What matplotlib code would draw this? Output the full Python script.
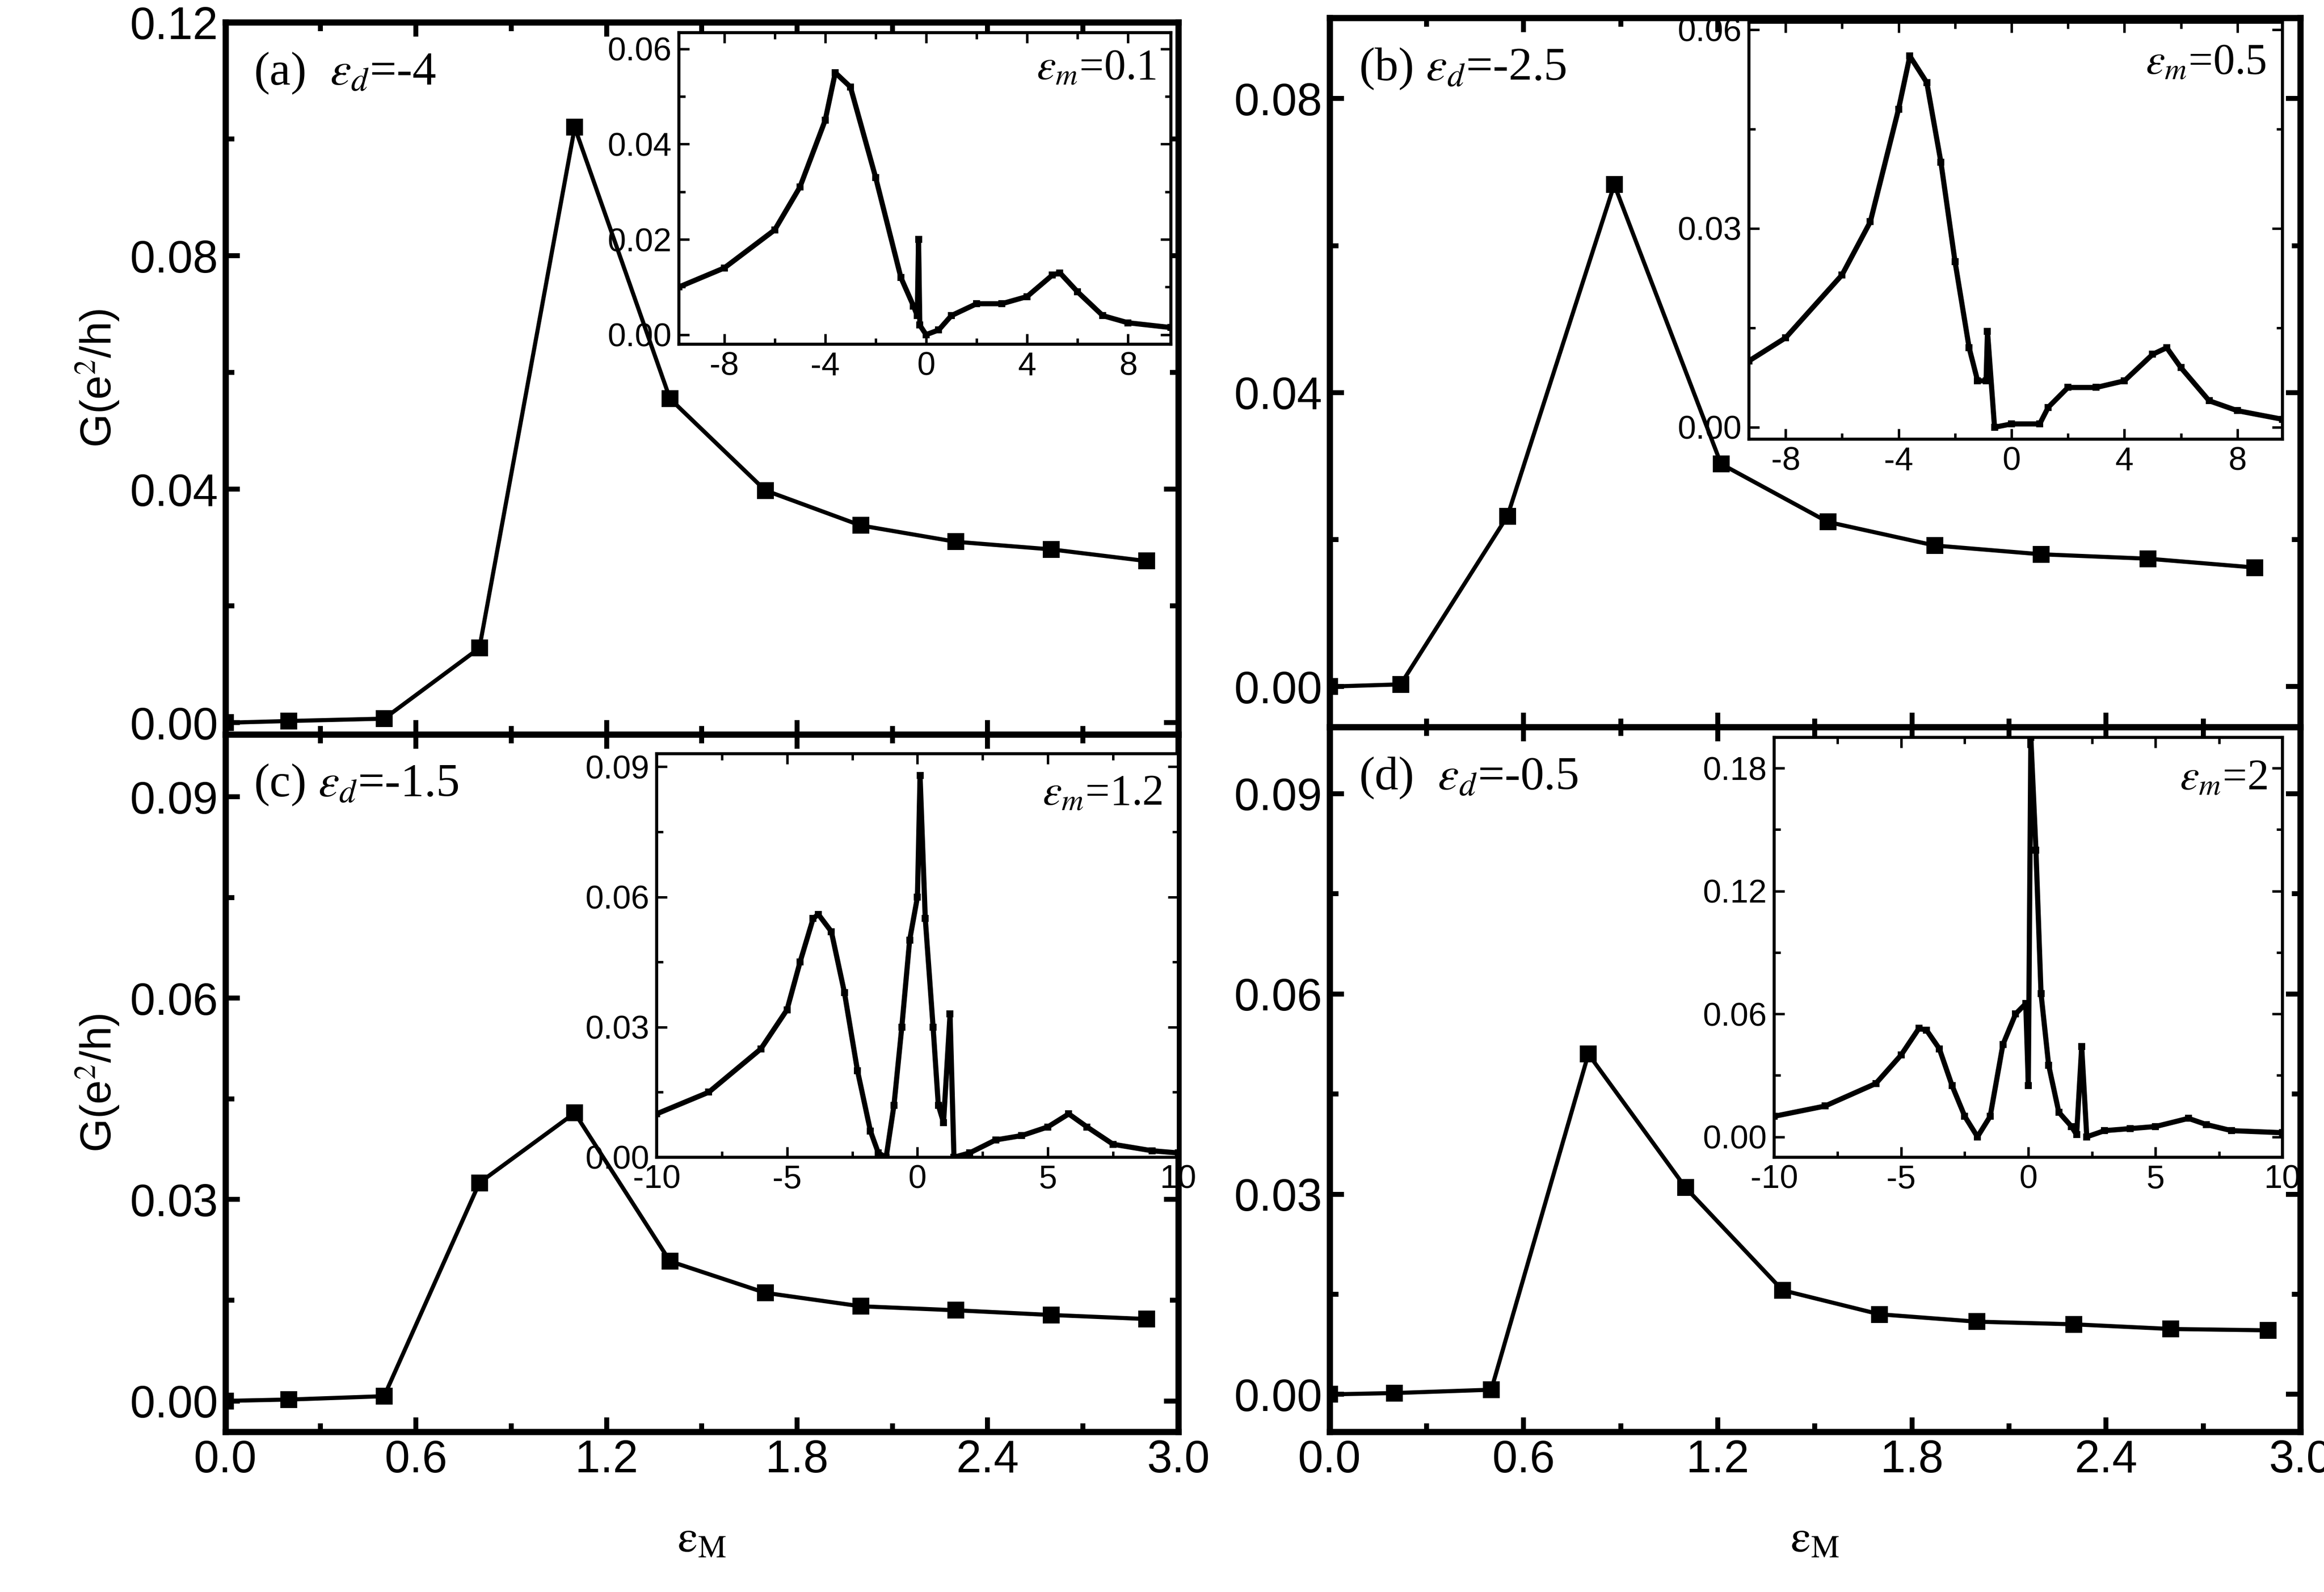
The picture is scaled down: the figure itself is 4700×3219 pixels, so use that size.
import matplotlib
matplotlib.use("Agg")
import matplotlib.pyplot as plt
from matplotlib.ticker import MultipleLocator

plt.rcParams['font.family'] = ['Liberation Sans', 'DejaVu Sans']
plt.rcParams['mathtext.fontset'] = 'stix'

# main panels
xa = [0, 0.2, 0.5, 0.8, 1.1, 1.4, 1.7, 2.0, 2.3, 2.6, 2.9]
ya = [0, 0.0003, 0.0007, 0.0128, 0.102, 0.0555, 0.0398, 0.0338, 0.031, 0.0297, 0.0277]
xb = [0, 0.22, 0.55, 0.88, 1.21, 1.54, 1.87, 2.2, 2.53, 2.86]
yb = [0, 0.0003, 0.0232, 0.0683, 0.0303, 0.0224, 0.0192, 0.018, 0.0174, 0.0162]
xc = [0, 0.2, 0.5, 0.8, 1.1, 1.4, 1.7, 2.0, 2.3, 2.6, 2.9]
yc = [0, 0.0002, 0.0007, 0.0325, 0.0429, 0.0208, 0.0161, 0.0141, 0.0135, 0.0128, 0.0122]
xd = [0, 0.2, 0.5, 0.8, 1.1, 1.4, 1.7, 2.0, 2.3, 2.6, 2.9]
yd = [0, 0.0002, 0.0007, 0.051, 0.031, 0.0156, 0.012, 0.0109, 0.0105, 0.0098, 0.0096]

# insets
ia_x = [-9.8, -8, -6, -5, -4, -3.6, -3, -2, -1, -0.5, -0.35, -0.3, -0.25, 0, 0.5, 1, 2, 3, 4, 5, 5.3, 6, 7, 8, 9.7]
ia_y = [0.010, 0.014, 0.022, 0.031, 0.045, 0.055, 0.052, 0.033, 0.012, 0.006, 0.004, 0.020, 0.002, 0.0, 0.001, 0.004, 0.0065, 0.0065, 0.008, 0.0125, 0.013, 0.009, 0.004, 0.0025, 0.0015]
ib_x = [-9.3, -8, -6, -5, -4, -3.6, -3, -2.5, -2, -1.5, -1.2, -0.9, -0.85, -0.6, 0, 1, 1.3, 2, 3, 4, 5, 5.5, 6, 7, 8, 9.6]
ib_y = [0.010, 0.0135, 0.023, 0.031, 0.048, 0.056, 0.052, 0.040, 0.025, 0.012, 0.007, 0.007, 0.0145, 0.0, 0.0005, 0.0005, 0.003, 0.006, 0.006, 0.007, 0.011, 0.012, 0.009, 0.004, 0.0025, 0.0012]
ic_x = [-10, -8, -6, -5, -4.5, -4, -3.8, -3.3, -2.8, -2.3, -1.8, -1.5, -1.2, -0.9, -0.6, -0.3, 0, 0.1, 0.3, 0.6, 0.8, 1.0, 1.25, 1.4, 2, 3, 4, 5, 5.8, 6.5, 7.5, 9, 10]
ic_y = [0.010, 0.015, 0.025, 0.034, 0.045, 0.055, 0.056, 0.052, 0.038, 0.020, 0.006, 0.001, 0.0, 0.012, 0.030, 0.050, 0.060, 0.088, 0.055, 0.030, 0.012, 0.008, 0.033, 0.0, 0.001, 0.004, 0.005, 0.007, 0.010, 0.007, 0.003, 0.0015, 0.001]
id_x = [-10, -8, -6, -5, -4.3, -4, -3.5, -3, -2.5, -2, -1.5, -1, -0.5, -0.1, 0, 0.1, 0.3, 0.5, 0.8, 1.2, 1.7, 1.9, 2.1, 2.3, 3, 4, 5, 6.3, 7, 8, 10]
id_y = [0.010, 0.015, 0.026, 0.040, 0.053, 0.052, 0.043, 0.025, 0.010, 0.0, 0.010, 0.045, 0.060, 0.065, 0.025, 0.195, 0.140, 0.070, 0.035, 0.012, 0.005, 0.001, 0.044, 0.0, 0.003, 0.004, 0.005, 0.009, 0.006, 0.003, 0.002]

W, H = 1568, 1073
def rect(l, r, t, b):
    return [l / W, 1 - b / H, (r - l) / W, (b - t) / H]

fig = plt.figure(figsize=(4700 / 300, 3219 / 300), dpi=300)

def style(ax, lw=2.5, size=20, length=7):
    for s in ax.spines.values():
        s.set_linewidth(lw)
    ax.tick_params(direction='in', which='both', top=True, right=True, width=lw * 0.8, labelsize=size)
    ax.tick_params(which='major', length=length)
    ax.tick_params(which='minor', length=length * 0.6)

main = [
    (rect(152, 795, 15, 495), xa, ya, (-0.002, 0.12), 0.04, "(a)  $\\varepsilon_d$=-4", False),
    (rect(897, 1552, 12, 490), xb, yb, (-0.0055, 0.091), 0.04, "(b) $\\varepsilon_d$=-2.5", False),
    (rect(152, 795, 495, 965), xc, yc, (-0.0046, 0.0993), 0.03, "(c) $\\varepsilon_d$=-1.5", True),
    (rect(897, 1552, 490, 965), xd, yd, (-0.0056, 0.1), 0.03, "(d)  $\\varepsilon_d$=-0.5", True),
]
for r, x, y, yl, step, lab, bottom in main:
    ax = fig.add_axes(r)
    ax.plot(x, y, '-s', color='black', lw=2, ms=7)
    ax.set_xlim(0, 3.0)
    ax.set_ylim(*yl)
    ax.xaxis.set_major_locator(MultipleLocator(0.6))
    ax.xaxis.set_minor_locator(MultipleLocator(0.3))
    ax.yaxis.set_major_locator(MultipleLocator(step))
    ax.yaxis.set_minor_locator(MultipleLocator(step / 2))
    ax.yaxis.set_major_formatter(matplotlib.ticker.FormatStrFormatter('%.2f'))
    ax.xaxis.set_major_formatter(matplotlib.ticker.FormatStrFormatter('%.1f'))
    style(ax, lw=3, size=22)
    if not bottom:
        ax.tick_params(labelbottom=False)
    else:
        ax.set_xlabel("$\\mathrm{\\varepsilon_M}$", fontsize=22, labelpad=18)
    if r[0] < 0.3:
        ax.set_ylabel("G(e$^2$/h)", fontsize=21)
    ax.text(0.03, 0.96, lab, transform=ax.transAxes, fontsize=23, va='top',
            family='Liberation Serif')

insets = [
    (rect(458, 790, 22, 232), ia_x, ia_y, (-9.8, 9.7), (-0.002, 0.0634), 0.02, 4, "$\\varepsilon_m$=0.1"),
    (rect(1180, 1540, 15, 296), ib_x, ib_y, (-9.3, 9.6), (-0.0018, 0.0611), 0.03, 4, "$\\varepsilon_m$=0.5"),
    (rect(443, 795, 508, 780), ic_x, ic_y, (-10, 10), (0, 0.093), 0.03, 5, "$\\varepsilon_m$=1.2"),
    (rect(1197, 1540, 497, 780), id_x, id_y, (-10, 10), (-0.010, 0.195), 0.06, 5, "$\\varepsilon_m$=2"),
]
for r, x, y, xl, yl, ystep, xstep, lab in insets:
    ax = fig.add_axes(r)
    ax.plot(x, y, '-s', color='black', lw=2.5, ms=2.5)
    ax.set_xlim(*xl)
    ax.set_ylim(*yl)
    ax.xaxis.set_major_locator(MultipleLocator(xstep))
    ax.xaxis.set_minor_locator(MultipleLocator(xstep / 2))
    ax.yaxis.set_major_locator(MultipleLocator(ystep))
    ax.yaxis.set_minor_locator(MultipleLocator(ystep / 2))
    ax.yaxis.set_major_formatter(matplotlib.ticker.FormatStrFormatter('%.2f'))
    ax.xaxis.set_major_formatter(matplotlib.ticker.FormatStrFormatter('%g'))
    style(ax, lw=1.5, size=16, length=5)
    ax.text(0.97, 0.95, lab, transform=ax.transAxes, fontsize=21, va='top', ha='right',
            family='Liberation Serif')

fig.savefig("out.png", dpi=300)
